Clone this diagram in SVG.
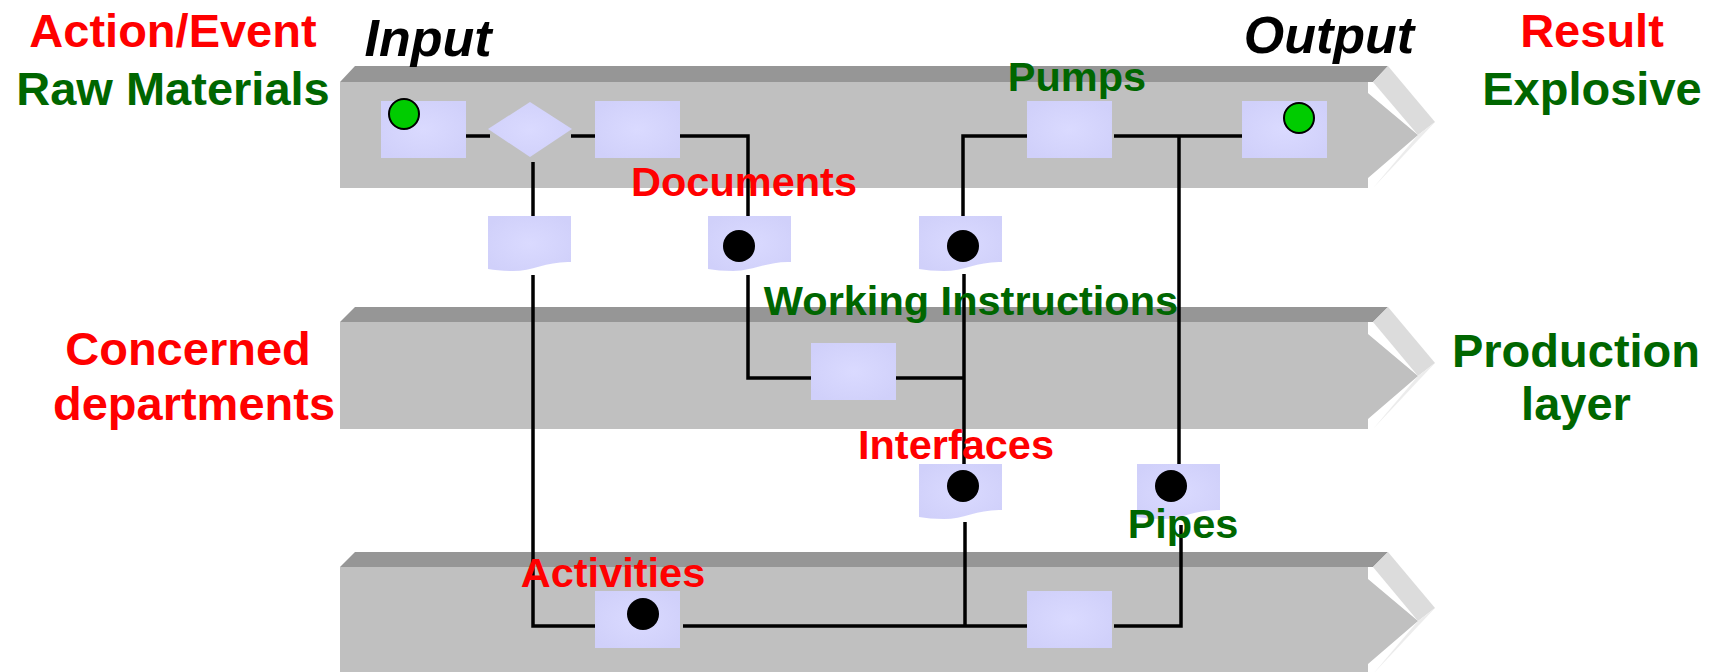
<svg xmlns="http://www.w3.org/2000/svg" width="1715" height="672" viewBox="0 0 1715 672">
<style>
.front{fill:#c0c0c0}
.top{fill:#969696}
.side{fill:#dcdcdc}
.sliver{fill:#ececec}
.box{fill:url(#g)}
.ln{fill:none;stroke:#000;stroke-width:3.5}
.dot{fill:#000}
.gdot{fill:#00cc00;stroke:#000;stroke-width:2}
text{font-family:"Liberation Sans",Arial,sans-serif;font-weight:bold;text-anchor:middle}
.big{font-size:47px}
.io{font-size:52px}
.mid{font-size:41.5px}
.red{fill:#ff0000}
.grn{fill:#006600}
.blk{fill:#000;font-style:italic}
</style>
<defs>
<radialGradient id="g" cx="0.5" cy="0.5" r="0.6">
<stop offset="0" stop-color="#dadaff"/>
<stop offset="1" stop-color="#d0d0fa"/>
</radialGradient>
<path id="doc" d="M0,0 H83 V46 C60,45 45,55 25,55 C15,55 7,54 0,53 Z"/>
<rect id="bx" width="85" height="57"/>
</defs>

<g id="band1">
<polygon class="top" points="340,82 355,66 1388,66 1373,82"/>
<polygon class="side" points="1373,82 1388,66 1435,122 1418,135"/>
<polygon class="sliver" points="1373,188 1418,135 1435,122"/>
<polygon class="front" points="340,82 1368,82 1368,93 1418,135 1368,178 1368,188 340,188"/>
</g>
<g id="band2">
<polygon class="top" points="340,322 355,307 1388,307 1373,322"/>
<polygon class="side" points="1373,322 1388,307 1435,363 1418,376"/>
<polygon class="sliver" points="1373,429 1418,376 1435,363"/>
<polygon class="front" points="340,322 1368,322 1368,334 1418,376 1368,419 1368,429 340,429"/>
</g>
<g id="band3">
<polygon class="top" points="340,567 355,552 1388,552 1373,567"/>
<polygon class="side" points="1373,567 1388,552 1435,608 1418,621"/>
<polygon class="sliver" points="1373,674 1418,621 1435,608"/>
<polygon class="front" points="340,567 1368,567 1368,579 1418,621 1368,664 1368,674 340,674"/>
</g>

<g id="labels">
<text class="big red" x="173" y="47">Action/Event</text>
<text class="big grn" x="173" y="105">Raw Materials</text>
<text class="io blk" x="428" y="56">Input</text>
<text class="io blk" x="1329" y="53">Output</text>
<text class="big red" x="1592" y="47">Result</text>
<text class="big grn" x="1592" y="105">Explosive</text>
<text class="big red" x="188" y="365">Concerned</text>
<text class="big red" x="194" y="420">departments</text>
<text class="big grn" x="1576" y="367">Production</text>
<text class="big grn" x="1576" y="420">layer</text>
</g>

<g id="connectors">
<line class="ln" x1="464" y1="136" x2="490" y2="136"/>
<line class="ln" x1="571" y1="136" x2="597" y2="136"/>
<polyline class="ln" points="680,136 748,136 748,223"/>
<line class="ln" x1="533" y1="162" x2="533" y2="223"/>
<polyline class="ln" points="533,275 533,626 599,626"/>
<polyline class="ln" points="748,275 748,378 814,378"/>
<line class="ln" x1="896" y1="378" x2="964" y2="378"/>
<line class="ln" x1="964" y1="274" x2="964" y2="472"/>
<polyline class="ln" points="1029,136 963,136 963,224"/>
<line class="ln" x1="1114" y1="136" x2="1244" y2="136"/>
<line class="ln" x1="1179" y1="136" x2="1179" y2="472"/>
<line class="ln" x1="965" y1="522" x2="965" y2="626"/>
<line class="ln" x1="683" y1="626" x2="1030" y2="626"/>
<polyline class="ln" points="1114,626 1181,626 1181,525"/>
</g>

<g id="n-start"><use href="#bx" class="box" x="381" y="101"/><circle class="gdot" cx="404" cy="114" r="15"/></g>
<g id="n-decision"><polygon class="box" points="488,129 530,102 572,129 530,157"/></g>
<g id="n-box2"><use href="#bx" class="box" x="595" y="101"/></g>
<g id="n-pumps"><use href="#bx" class="box" x="1027" y="101"/></g>
<g id="n-end"><use href="#bx" class="box" x="1242" y="101"/><circle class="gdot" cx="1299" cy="118" r="15"/></g>
<g id="n-doc1"><use href="#doc" class="box" x="488" y="216"/></g>
<g id="n-doc2"><use href="#doc" class="box" x="708" y="216"/><circle class="dot" cx="739" cy="246" r="16"/></g>
<g id="n-doc3"><use href="#doc" class="box" x="919" y="216"/><circle class="dot" cx="963" cy="246" r="16"/></g>
<g id="n-wi"><use href="#bx" class="box" x="811" y="343"/></g>
<g id="n-interfaces"><use href="#doc" class="box" x="919" y="464"/><circle class="dot" cx="963" cy="486" r="16"/></g>
<g id="n-pipes"><use href="#doc" class="box" x="1137" y="464"/><circle class="dot" cx="1171" cy="486" r="16"/></g>
<g id="n-activity"><use href="#bx" class="box" x="595" y="591"/><circle class="dot" cx="643" cy="614" r="16"/></g>
<g id="n-box4"><use href="#bx" class="box" x="1027" y="591"/></g>

<g id="mid-labels">
<text class="mid grn" x="1077" y="91">Pumps</text>
<text class="mid red" x="744" y="196">Documents</text>
<text class="mid grn" x="971" y="315">Working Instructions</text>
<text class="mid red" x="956" y="459">Interfaces</text>
<text class="mid grn" x="1183" y="538">Pipes</text>
<text class="mid red" x="613" y="587">Activities</text>
</g>
</svg>
